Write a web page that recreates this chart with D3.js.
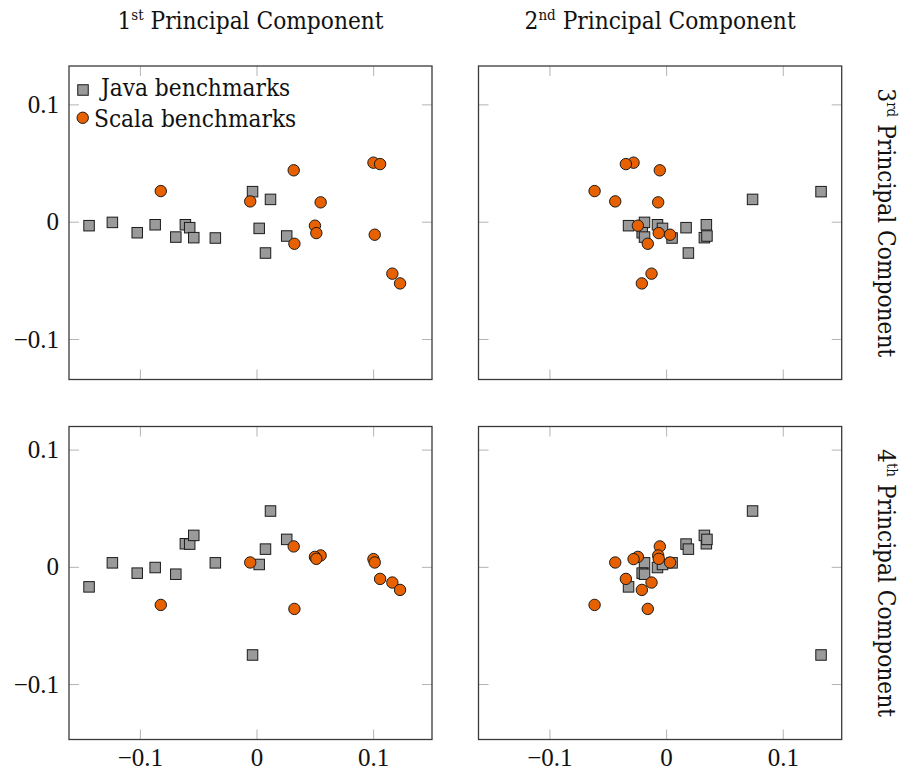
<!DOCTYPE html>
<html><head><meta charset="utf-8">
<script src="https://cdn.jsdelivr.net/npm/d3@7"></script>
<style>
body{margin:0;background:#fff;}
svg{display:block;}
.lab{font-family:"DejaVu Serif Condensed","DejaVu Serif",serif;font-stretch:condensed;font-size:24.2px;fill:#111;}
.tick text{font-family:"Liberation Serif","Times New Roman",serif;font-size:25px;fill:#111;}
</style></head>
<body>
<svg id="chart" width="914" height="771"></svg>
<script>
// Benchmark scores on the principal components
const javaPC1 = [-0.1436,-0.1236,-0.1023,-0.0869,-0.0692,-0.0610,-0.0573,-0.0538,-0.0353,-0.0034,0.0120,0.0023,0.0259,0.0077];
const javaPC2 = [-0.0322,-0.0185,-0.0205,-0.0074,-0.0185,0.0345,0.0171,0.0328,0.0051,0.1328,0.0741,-0.0031,0.0350,0.0191];
const javaPC3 = [-0.0034,-0.0006,-0.0094,-0.0026,-0.0131,-0.0026,-0.0051,-0.0136,-0.0139,0.0256,0.0190,-0.0057,-0.0122,-0.0267];
const javaPC4 = [-0.0171,0.0034,-0.0054,-0.0006,-0.0063,0.0197,0.0194,0.0268,0.0034,-0.0752,0.0476,0.0020,0.0234,0.0151];

const scalaPC1 = [-0.0821,-0.0054,0.0319,0.0550,0.0501,0.0513,0.0325,0.1003,0.1060,0.1014,0.1165,0.1231];
const scalaPC2 = [-0.0613,-0.0436,-0.0054,-0.0068,-0.0242,-0.0063,-0.0157,-0.0279,-0.0345,0.0034,-0.0125,-0.0208];
const scalaPC3 = [0.0261,0.0173,0.0438,0.0165,-0.0034,-0.0097,-0.0188,0.0503,0.0491,-0.0111,-0.0443,-0.0526];
const scalaPC4 = [-0.0325,0.0037,0.0174,0.0097,0.0085,0.0068,-0.0359,0.0066,-0.0103,0.0037,-0.0134,-0.0197];

const tickValues = [-0.1, 0, 0.1];
const colTitles = [["1","st"," Principal Component"],["2","nd"," Principal Component"]];
const rowTitles = [["3","rd"," Principal Component"],["4","th"," Principal Component"]];
const legendLabels = ["Java benchmarks","Scala benchmarks"];

const xDomain = [-0.1608, 0.1505];
const yDomains = [[-0.1345, 0.1327],[-0.1473, 0.1197]];

const cols = [{x0:69, x1:432, java:javaPC1, scala:scalaPC1},{x0:478.5, x1:841.7, java:javaPC2, scala:scalaPC2}];
const rows = [{y0:66, y1:379.5, java:javaPC3, scala:scalaPC3},{y0:426.5, y1:739.5, java:javaPC4, scala:scalaPC4}];

const svg = d3.select("#chart");
const grayFill = "#9a9a9a", orangeFill = "#e86100", markStroke = "#1a1a1a";
const sq = 10.5, rad = 5.7;
const fmt = d => d === 0 ? "0" : d3.format(".1f")(d);

rows.forEach((row, ri) => {
  cols.forEach((col, ci) => {
    const x = d3.scaleLinear().domain(xDomain).range([col.x0, col.x1]);
    const y = d3.scaleLinear().domain(yDomains[ri]).range([row.y1, row.y0]);
    const g = svg.append("g");

    const styleAxis = sel => {
      sel.select(".domain").remove();
      sel.selectAll(".tick line").attr("stroke", "#b4b4b4").attr("stroke-width", 1);
    };
    g.append("g").attr("transform", `translate(0,${row.y1})`)
      .call(d3.axisBottom(x).tickValues(tickValues).tickSize(-10).tickPadding(9).tickFormat(ri === 1 ? fmt : ""))
      .call(styleAxis);
    g.append("g").attr("transform", `translate(0,${row.y0})`)
      .call(d3.axisTop(x).tickValues(tickValues).tickSize(-10).tickFormat(""))
      .call(styleAxis);
    g.append("g").attr("transform", `translate(${col.x0},0)`)
      .call(d3.axisLeft(y).tickValues(tickValues).tickSize(-10).tickPadding(10).tickFormat(ci === 0 ? fmt : ""))
      .call(styleAxis);
    g.append("g").attr("transform", `translate(${col.x1},0)`)
      .call(d3.axisRight(y).tickValues(tickValues).tickSize(-10).tickFormat(""))
      .call(styleAxis);
    svg.selectAll(".tick text").attr("fill", "#111");

    g.append("rect").attr("x", col.x0).attr("y", row.y0)
      .attr("width", col.x1 - col.x0).attr("height", row.y1 - row.y0)
      .attr("fill", "none").attr("stroke", "#3a3a3a").attr("stroke-width", 1.3);

    const jd = col.java.map((v, i) => [v, row.java[i]]);
    const sd = col.scala.map((v, i) => [v, row.scala[i]]);
    g.selectAll("rect.java").data(jd).join("rect").attr("class", "java")
      .attr("x", d => x(d[0]) - sq/2).attr("y", d => y(d[1]) - sq/2)
      .attr("width", sq).attr("height", sq)
      .attr("fill", grayFill).attr("stroke", markStroke).attr("stroke-width", 1);
    g.selectAll("circle.scala").data(sd).join("circle").attr("class", "scala")
      .attr("cx", d => x(d[0])).attr("cy", d => y(d[1])).attr("r", rad)
      .attr("fill", orangeFill).attr("stroke", markStroke).attr("stroke-width", 1);
  });
});

// column titles
colTitles.forEach((t, i) => {
  const cx = (cols[i].x0 + cols[i].x1) / 2;
  const txt = svg.append("text").attr("class", "lab").attr("x", cx).attr("y", 29).attr("text-anchor", "middle");
  txt.append("tspan").text(t[0]);
  txt.append("tspan").attr("font-size", 15).attr("dy", -9).text(t[1]);
  txt.append("tspan").attr("dy", 9).text(t[2]);
});
// row titles (rotated)
rowTitles.forEach((t, i) => {
  const cy = (rows[i].y0 + rows[i].y1) / 2;
  const txt = svg.append("text").attr("class", "lab")
    .attr("transform", `translate(878,${cy}) rotate(90)`).attr("text-anchor", "middle");
  txt.append("tspan").text(t[0]);
  txt.append("tspan").attr("font-size", 15).attr("dy", -9).text(t[1]);
  txt.append("tspan").attr("dy", 9).text(t[2]);
});

// legend
const leg = svg.append("g");
leg.append("rect").attr("x", 83 - sq/2).attr("y", 90 - sq/2).attr("width", sq).attr("height", sq)
  .attr("fill", grayFill).attr("stroke", markStroke).attr("stroke-width", 1);
leg.append("circle").attr("cx", 82.7).attr("cy", 117.8).attr("r", rad)
  .attr("fill", orangeFill).attr("stroke", markStroke).attr("stroke-width", 1);
leg.append("text").attr("class", "lab").attr("x", 101).attr("y", 96).text(legendLabels[0]);
leg.append("text").attr("class", "lab").attr("x", 94).attr("y", 126.5).text(legendLabels[1]);
</script>
</body></html>
